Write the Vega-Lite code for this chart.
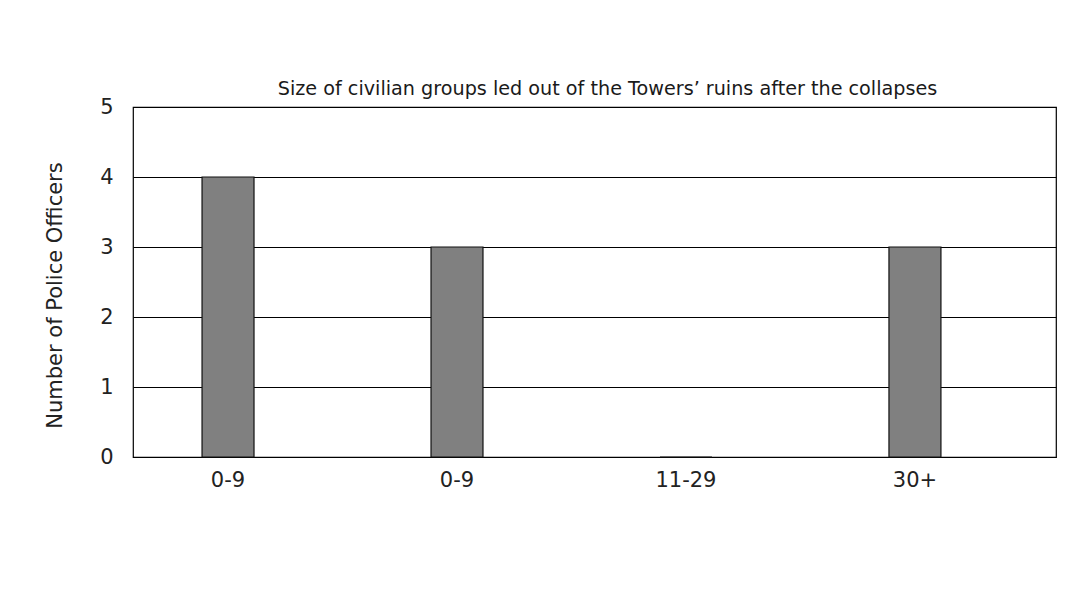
{
  "$schema": "https://vega.github.io/schema/vega-lite/v6.json",
  "autosize": {"type": "none"},
  "padding": {"left": 133, "top": 107, "right": 30, "bottom": 144},
  "width": 923,
  "height": 350,
  "background": "white",
  "title": {
    "text": "Size of civilian groups led out of the Towers’ ruins after the collapses",
    "font": "DejaVu Sans",
    "fontSize": 19.2,
    "fontWeight": "normal",
    "color": "#1a1a1a",
    "anchor": "middle",
    "dx": 13,
    "offset": -3
  },
  "config": {
    "view": {"stroke": "black", "strokeWidth": 1.2},
    "axis": {"labelFont": "DejaVu Sans", "titleFont": "DejaVu Sans"}
  },
  "data": {
    "values": [
      {"slot": 1, "group": "0-9", "officers": 4},
      {"slot": 2, "group": "0-9", "officers": 3},
      {"slot": 3, "group": "11-29", "officers": 0},
      {"slot": 4, "group": "30+", "officers": 3}
    ]
  },
  "mark": {"type": "bar", "fill": "#808080", "stroke": "#111", "strokeWidth": 1.2},
  "encoding": {
    "x": {
      "field": "slot",
      "type": "ordinal",
      "scale": {"paddingInner": 0.773, "paddingOuter": 0.402, "align": 0.375},
      "axis": {
        "title": null,
        "labelExpr": "['0-9','0-9','11-29','30+'][datum.value-1]",
        "labelAngle": 0,
        "labelOverlap": false,
        "ticks": false,
        "domain": false,
        "labelFontSize": 21,
        "labelColor": "#222",
        "labelPadding": 12
      }
    },
    "y": {
      "field": "officers",
      "type": "quantitative",
      "scale": {"domain": [0, 5], "nice": false},
      "axis": {
        "title": "Number of Police Officers",
        "titleFontSize": 21,
        "titleFontWeight": "normal",
        "titleColor": "#222",
        "titlePadding": 34,
        "titleY": 188,
        "values": [0, 1, 2, 3, 4, 5],
        "labelOverlap": false,
        "ticks": false,
        "domain": false,
        "grid": true,
        "gridColor": "black",
        "gridOpacity": 1,
        "gridWidth": 1.2,
        "labelFontSize": 21,
        "labelColor": "#222",
        "labelPadding": 20
      }
    }
  }
}
